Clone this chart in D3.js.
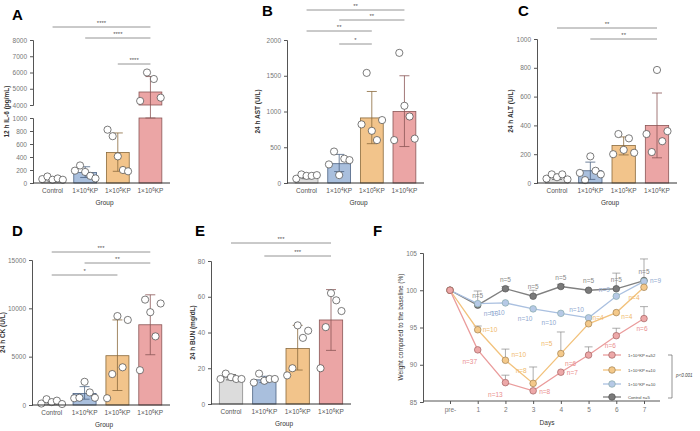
<!DOCTYPE html><html><head><meta charset="utf-8">
<script src="https://cdn.jsdelivr.net/npm/d3@7"></script>
<style>body{margin:0;background:#fff}text{font-family:"Liberation Sans",Arial,sans-serif}</style></head><body>
<svg id="c" width="700" height="431"></svg>
<script>
const groups=["Control","1×10|4|KP","1×10|5|KP","1×10|6|KP"];
const fills=["#dcdcdc","#a9bfdd","#f2c48b","#eba5a5"];
const strokes=["#8c8c8c","#4d6383","#8a6a3c","#8a5656"];
const aMean=[50,160,470,4800], aLo=[20,85,180,3850], aHi=[80,250,770,5750];
const aPts=[[60,100,50,70,50],[190,270,170,110,70],[820,720,410,200,180],[4250,6000,5600,4450]];
const bMean=[90,270,910,1000], bLo=[60,160,550,510], bHi=[120,400,1280,1500];
const bPts=[[60,120,100,100,110],[260,440,110,340,320],[820,1540,730,600,880],[600,1820,1080,930,620]];
const cMean=[40,85,260,400], cLo=[25,25,195,175], cHi=[60,145,320,625];
const cPts=[[30,60,40,60,25],[70,20,185,85,60],[200,340,230,310,210],[340,215,785,290,360]];
const dMean=[300,1200,5100,8300], dLo=[100,600,1500,5200], dHi=[500,1900,8800,11400];
const dPts=[[150,600,300,450,100],[700,750,2400,1300,750],[700,3200,9200,3900,8800],[3600,10900,9600,7100,10500]];
const eMean=[15,13.5,31,47], eLo=[13.5,12,19,30], eHi=[16.5,15.5,44,64];
const ePts=[[14,17,15,14,14],[12,17,13,14,14],[16,20,44,37,41],[20,43,62,58,52]];
const days=["pre-","1","2","3","4","5","6","7"];
const fRed=[100,92.0,87.6,86.5,89.0,91.3,93.9,96.2], fRedErr=[0,0,1,0,0,1.1,1,1.6];
const fOra=[100,94.7,90.6,87.5,91.5,95.5,97.0,100.4], fOraErr=[0,0.5,1.5,2.2,2.9,0,0,0];
const fBlu=[100,98.2,98.3,97.5,96.9,96.3,99.2,101.2], fBluErr=[0,0,0,0,0,0,0,0];
const fGry=[100,98.0,100.2,99.2,100.5,100.0,100.2,101.3], fGryErr=[0,1.9,0.3,0.8,0.3,0,2.1,2.9];
const nRed=["","n=37","n=13","n=8","n=7","n=6","n=6","n=6"];
const nOra=["","n=10","n=10","n=8","n=5","n=4","n=4","n=4"];
const nBlu=["","n=10","n=10","n=10","n=10","n=10","n=9","n=9"];
const nGry=["","n=5","n=5","n=5","n=5","n=5","n=5","n=5"];
const legendLabels=["1×10⁶KP n=52","1×10⁵KP n=10","1×10⁴KP n=10","Control n=5"];

const svg=d3.select("#c");
const fs=6.5;
function groupLabel(g,x,y,lbl){
  const p=lbl.split("|");
  const t=g.append("text").attr("x",x).attr("y",y).attr("text-anchor","middle").attr("font-size",fs).attr("fill","#555");
  t.append("tspan").text(p[0]);
  if(p.length>1){t.append("tspan").attr("dy",-2.5).attr("font-size",4.5).text(p[1]);t.append("tspan").attr("dy",2.5).text(p[2]);}
}
function ax(sel){sel.select(".domain").attr("stroke","#555");sel.selectAll(".tick line").attr("stroke","#555");sel.selectAll("text").attr("font-size",6.5).attr("fill","#777");}
function barPanel(o){
  const g=svg.append("g");
  const x=d3.scaleBand().domain(groups).range([o.x0,o.x1]).paddingInner(0.3).paddingOuter(0.25);
  const y=o.y;
  g.append("text").attr("x",o.tx).attr("y",o.ty).attr("font-size",15).attr("font-weight","bold").text(o.title);
  groups.forEach((gr,i)=>{
    const cx=x(gr)+x.bandwidth()/2, bw=x.bandwidth();
    const bar=(top,bot)=>g.append("rect").attr("x",x(gr)).attr("width",bw).attr("y",top).attr("height",bot-top).attr("fill",fills[i]).attr("stroke",strokes[i]).attr("stroke-width",0.8);
    if(o.broken){
      bar(y(Math.min(o.mean[i],1000)),y(0));
      if(o.mean[i]>1000) bar(y(o.mean[i]),y(4000));
    } else bar(y(o.mean[i]),y(0));
    const ec=i==0?"#555":strokes[i];
    g.append("line").attr("x1",cx).attr("x2",cx).attr("y1",y(o.lo[i])).attr("y2",y(o.hi[i])).attr("stroke",ec).attr("stroke-width",0.8);
    [o.lo[i],o.hi[i]].forEach(v=>g.append("line").attr("x1",cx-5).attr("x2",cx+5).attr("y1",y(v)).attr("y2",y(v)).attr("stroke",ec).attr("stroke-width",0.8));
    const pts=o.pts[i];
    pts.forEach((v,j)=>{
      const off=(j-(pts.length-1)/2)*(bw*0.9/(pts.length-1));
      g.append("circle").attr("cx",cx+off).attr("cy",y(v)).attr("r",3.6).attr("fill","#fff").attr("stroke","#444").attr("stroke-width",0.7);
    });
    groupLabel(g,cx,o.base+10,gr);
  });
  if(o.broken){
    g.append("g").attr("transform",`translate(${o.x0},0)`).call(d3.axisLeft(y.lower).tickValues([0,200,400,600,800,1000]).tickSize(3).tickFormat(d3.format("d"))).call(ax);
    g.append("g").attr("transform",`translate(${o.x0},0)`).call(d3.axisLeft(y.upper).tickValues([4000,5000,6000,7000,8000]).tickSize(3).tickFormat(d3.format("d"))).call(ax);
  } else {
    g.append("g").attr("transform",`translate(${o.x0},0)`).call(d3.axisLeft(y).ticks(o.nt).tickSize(3).tickFormat(d3.format("d"))).call(ax);
  }
  g.append("line").attr("x1",o.x0).attr("x2",o.x1).attr("y1",o.base).attr("y2",o.base).attr("stroke","#333").attr("stroke-width",1);
  g.append("text").attr("transform",`translate(${o.x0-o.lo2},${(o.base+o.top)/2}) rotate(-90)`).attr("text-anchor","middle").attr("font-size",6.5).attr("font-weight","bold").attr("fill","#333").text(o.ylab);
  g.append("text").attr("x",(o.x0+o.x1)/2+3).attr("y",o.base+22).attr("text-anchor","middle").attr("font-size",6.5).attr("fill","#333").text("Group");
  o.sig.forEach(s=>{
    const x1=x(groups[s[0]])+x.bandwidth()/2, x2=x(groups[s[1]])+x.bandwidth()/2;
    g.append("line").attr("x1",x1).attr("x2",x2).attr("y1",s[2]).attr("y2",s[2]).attr("stroke","#888").attr("stroke-width",0.9);
    g.append("text").attr("x",(x1+x2)/2).attr("y",s[2]-2).attr("text-anchor","middle").attr("font-size",6).attr("fill","#555").text(s[3]);
  });
}
const aLower=d3.scaleLinear().domain([0,1000]).range([183,118]);
const aUpper=d3.scaleLinear().domain([4000,8000]).range([105,40]);
const aY=v=>v<=1000?aLower(v):(v>=4000?aUpper(v):aLower(1000));
aY.lower=aLower;aY.upper=aUpper;
barPanel({title:"A",tx:12,ty:20,x0:33,x1:170,lo2:24,base:183,top:40,y:aY,broken:true,mean:aMean,lo:aLo,hi:aHi,pts:aPts,ylab:"12 h IL-6 (pg/mL)",sig:[[0,3,27,"****"],[1,3,38,"****"],[2,3,64,"****"]]});
barPanel({title:"B",tx:262,ty:16,x0:287,x1:424,lo2:27,base:183,top:40,y:d3.scaleLinear().domain([0,2000]).range([183,40]),nt:4,mean:bMean,lo:bLo,hi:bHi,pts:bPts,ylab:"24 h AST (U/L)",sig:[[0,3,10,"**"],[1,3,20,"**"],[0,2,31,"**"],[1,2,44,"*"]]});
barPanel({title:"C",tx:518,ty:16,x0:537,x1:677,lo2:24,base:183,top:39,y:d3.scaleLinear().domain([0,1000]).range([183,39]),nt:5,mean:cMean,lo:cLo,hi:cHi,pts:cPts,ylab:"24 h ALT (U/L)",sig:[[0,3,28,"**"],[1,3,39,"**"]]});
barPanel({title:"D",tx:12,ty:236,x0:32,x1:170,lo2:27,base:405,top:260,y:d3.scaleLinear().domain([0,15000]).range([405,260]),nt:3,mean:dMean,lo:dLo,hi:dHi,pts:dPts,ylab:"24 h CK (U/L)",sig:[[0,3,252,"***"],[1,3,263,"**"],[0,2,275,"*"]]});
barPanel({title:"E",tx:195,ty:236,x0:211,x1:351,lo2:16,base:404,top:261,y:d3.scaleLinear().domain([0,80]).range([404,261]),nt:4,mean:eMean,lo:eLo,hi:eHi,pts:ePts,ylab:"24 h BUN (mg/dL)",sig:[[0,3,243,"***"],[1,3,256,"***"]]});

(function(){
  const g=svg.append("g");
  g.append("text").attr("x",373).attr("y",236).attr("font-size",15).attr("font-weight","bold").text("F");
  const x=d3.scalePoint().domain(days).range([450,644]);
  const y=d3.scaleLinear().domain([85,105]).range([402,253]);
  g.append("g").attr("transform","translate(423,0)").call(d3.axisLeft(y).ticks(4).tickSize(3)).call(ax);
  g.append("g").attr("transform","translate(0,401)").call(d3.axisBottom(x).tickSize(3)).call(ax).select(".domain").attr("d","M423,0H660");
  g.append("text").attr("x",547).attr("y",425).attr("text-anchor","middle").attr("font-size",6.5).attr("fill","#333").text("Days");
  g.append("text").attr("transform","translate(403,327) rotate(-90)").attr("text-anchor","middle").attr("font-size",6.5).attr("fill","#333").text("Weight compared to the baseline (%)");
  const series=[
    {v:fGry,e:fGryErr,n:nGry,c:"#808080",f:"#7a7a7a",nc:"#888",off:[[0,-9],[0,-9],[0,-9],[0,-9],[0,-9],[0,-9],[0,-9],[0,-9]],sc:"#555"},
    {v:fBlu,e:fBluErr,n:nBlu,c:"#aac0e0",f:"#b6c9e6",nc:"#8ea8cf",off:[[0,0],[6,10],[-8,10],[-8,10],[-12,10],[-12,-8],[-12,-6],[6,0]],sc:"#8aa"},
    {v:fOra,e:fOraErr,n:nOra,c:"#f2c27c",f:"#f4c98a",nc:"#f0b86a",off:[[0,0],[5,0],[6,-5],[-12,-12],[-14,-10],[4,-6],[5,4],[-10,11]],sc:"#a08050"},
    {v:fRed,e:fRedErr,n:nRed,c:"#ea9c9c",f:"#eda8a8",nc:"#ea8e8e",off:[[0,0],[-8,12],[-10,12],[6,1],[6,1],[-18,9],[-6,10],[-2,10]],sc:"#a06060"}];
  series.forEach(s=>{
    s.v.forEach((v,i)=>{ if(s.e[i]>0){const cx=x(days[i]);
      g.append("line").attr("x1",cx).attr("x2",cx).attr("y1",y(v)).attr("y2",y(v+s.e[i])).attr("stroke","#888").attr("stroke-width",0.7);
      g.append("line").attr("x1",cx-4).attr("x2",cx+4).attr("y1",y(v+s.e[i])).attr("y2",y(v+s.e[i])).attr("stroke","#888").attr("stroke-width",0.7);}});
  });
  series.forEach(s=>{
    g.append("path").datum(s.v).attr("fill","none").attr("stroke",s.c).attr("stroke-width",1.3)
      .attr("d",d3.line().x((d,i)=>x(days[i])).y(d=>y(d)));
    s.v.forEach((v,i)=>{
      g.append("circle").attr("cx",x(days[i])).attr("cy",y(v)).attr("r",3.3).attr("fill",s.f).attr("stroke",s.sc).attr("stroke-width",0.7);
    });
  });
  series.forEach(s=>s.v.forEach((v,i)=>{
    if(s.n[i]){const o=s.off[i];
      g.append("text").attr("x",x(days[i])+o[0]).attr("y",y(v)+o[1]+2).attr("text-anchor",o[0]>0?"start":(o[0]<0?"middle":"middle")).attr("font-size",6.5).attr("fill",s.nc).text(s.n[i]);}
  }));
  const lc=[series[3],series[2],series[1],series[0]];
  const ly=[355,370,384,397];
  lc.forEach((s,i)=>{
    g.append("line").attr("x1",603).attr("x2",621).attr("y1",ly[i]).attr("y2",ly[i]).attr("stroke",s.c).attr("stroke-width",1.3);
    g.append("circle").attr("cx",612).attr("cy",ly[i]).attr("r",3.3).attr("fill",s.f).attr("stroke",s.sc).attr("stroke-width",0.7);
    g.append("text").attr("x",628).attr("y",ly[i]+1.5).attr("font-size",4.2).attr("fill","#444").text(legendLabels[i]);
  });
  g.append("path").attr("d","M668,355H672V398H668").attr("fill","none").attr("stroke","#666").attr("stroke-width",0.7);
  g.append("text").attr("x",676).attr("y",377).attr("font-size",4.5).attr("font-style","italic").attr("fill","#444").text("p<0.001");
})();
</script></body></html>
